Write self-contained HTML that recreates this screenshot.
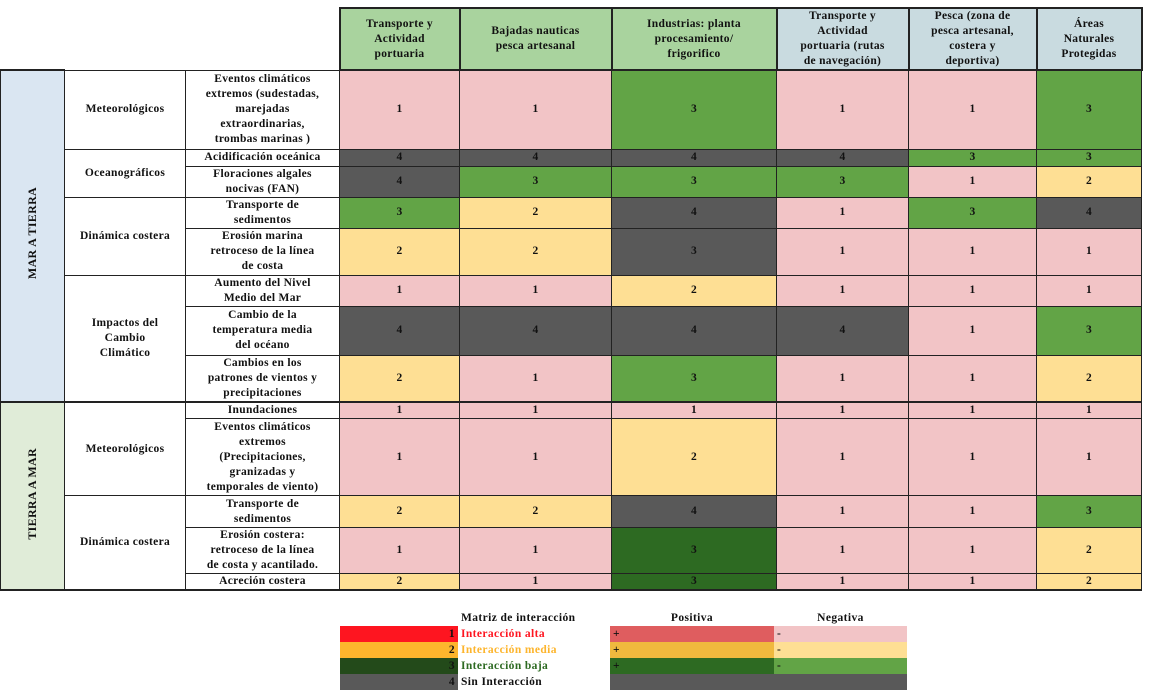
<!DOCTYPE html>
<html><head><meta charset="utf-8"><style>
body{margin:0;background:#fff;width:1151px;height:699px;overflow:hidden;font-family:"Liberation Serif",serif;font-weight:bold;color:#111}
table.m{position:absolute;left:0;top:7px;border-collapse:collapse;table-layout:fixed}
table.m td{border:1px solid #222;text-align:center;vertical-align:middle;font-size:11.5px;line-height:15px;padding:0;letter-spacing:0.3px;overflow:hidden}
.P{background:#f2c4c6}.Y{background:#fedf94}.G{background:#62a446}.D{background:#595959}.K{background:#2d6a22}
.hg{background:#a9d39e;border:2px solid #222 !important}.hb{background:#c9dbe0;border:2px solid #222 !important}
.e{border:none !important;background:#fff}
.lb{background:#dae6f2}.lg{background:#e0ecd8}
.v{writing-mode:vertical-rl;transform:rotate(180deg);font-size:12px;display:inline-block}
.t{border-bottom:2px solid #222 !important}
.leg{position:absolute;left:340px;top:610px;border-collapse:collapse;table-layout:fixed;font-size:11.5px;letter-spacing:0.4px}
.leg td{padding:0 3px;height:16px;line-height:14px}
</style></head><body>
<table class="m">
<colgroup><col style="width:64px"><col style="width:121px"><col style="width:154px"><col style="width:120px"><col style="width:152px"><col style="width:165px"><col style="width:132px"><col style="width:128px"><col style="width:105px"></colgroup>
<tr style="height:61px"><td class="e"></td><td class="e"></td><td class="e" style="border-right:2px solid #222 !important"></td>
<td class="hg">Transporte y<br>Actividad<br>portuaria</td><td class="hg">Bajadas nauticas<br>pesca artesanal</td><td class="hg">Industrias: planta<br>procesamiento/<br>frigorifico</td>
<td class="hb">Transporte y<br>Actividad<br>portuaria (rutas<br>de navegación)</td><td class="hb">Pesca (zona de<br>pesca artesanal,<br>costera y<br>deportiva)</td><td class="hb">Áreas<br>Naturales<br>Protegidas</td></tr>
<tr style="height:79px"><td rowspan="8" class="lb t" style="border-top:2px solid #222"><span class="v">MAR A TIERRA</span></td><td>Meteorológicos</td><td>Eventos climáticos<br>extremos (sudestadas,<br>marejadas<br>extraordinarias,<br>trombas marinas )</td><td class="P">1</td><td class="P">1</td><td class="G">3</td><td class="P">1</td><td class="P">1</td><td class="G">3</td></tr>
<tr style="height:17px"><td rowspan="2">Oceanográficos</td><td>Acidificación oceánica</td><td class="D">4</td><td class="D">4</td><td class="D">4</td><td class="D">4</td><td class="G">3</td><td class="G">3</td></tr>
<tr style="height:31px"><td>Floraciones algales<br>nocivas (FAN)</td><td class="D">4</td><td class="G">3</td><td class="G">3</td><td class="G">3</td><td class="P">1</td><td class="Y">2</td></tr>
<tr style="height:31px"><td rowspan="2">Dinámica costera</td><td>Transporte de<br>sedimentos</td><td class="G">3</td><td class="Y">2</td><td class="D">4</td><td class="P">1</td><td class="G">3</td><td class="D">4</td></tr>
<tr style="height:47px"><td>Erosión marina<br>retroceso de la línea<br>de costa</td><td class="Y">2</td><td class="Y">2</td><td class="D">3</td><td class="P">1</td><td class="P">1</td><td class="P">1</td></tr>
<tr style="height:30px"><td rowspan="3" class="t">Impactos del<br>Cambio<br>Climático</td><td>Aumento del Nivel<br>Medio del Mar</td><td class="P">1</td><td class="P">1</td><td class="Y">2</td><td class="P">1</td><td class="P">1</td><td class="P">1</td></tr>
<tr style="height:49px"><td>Cambio de la<br>temperatura media<br>del océano</td><td class="D">4</td><td class="D">4</td><td class="D">4</td><td class="D">4</td><td class="P">1</td><td class="G">3</td></tr>
<tr style="height:47px"><td class="t">Cambios en los<br>patrones de vientos y<br>precipitaciones</td><td class="Y t">2</td><td class="P t">1</td><td class="G t">3</td><td class="P t">1</td><td class="P t">1</td><td class="Y t">2</td></tr>
<tr style="height:16px"><td rowspan="5" class="lg t"><span class="v">TIERRA A MAR</span></td><td rowspan="2">Meteorológicos</td><td>Inundaciones</td><td class="P">1</td><td class="P">1</td><td class="P">1</td><td class="P">1</td><td class="P">1</td><td class="P">1</td></tr>
<tr style="height:77px"><td>Eventos climáticos<br>extremos<br>(Precipitaciones,<br>granizadas y<br>temporales de viento)</td><td class="P">1</td><td class="P">1</td><td class="Y">2</td><td class="P">1</td><td class="P">1</td><td class="P">1</td></tr>
<tr style="height:32px"><td rowspan="3" class="t">Dinámica costera</td><td>Transporte de<br>sedimentos</td><td class="Y">2</td><td class="Y">2</td><td class="D">4</td><td class="P">1</td><td class="P">1</td><td class="G">3</td></tr>
<tr style="height:46px"><td>Erosión costera:<br>retroceso de la línea<br>de costa y acantilado.</td><td class="P">1</td><td class="P">1</td><td class="K">3</td><td class="P">1</td><td class="P">1</td><td class="Y">2</td></tr>
<tr style="height:16px"><td class="t">Acreción costera</td><td class="Y t">2</td><td class="P t">1</td><td class="K t">3</td><td class="P t">1</td><td class="P t">1</td><td class="Y t">2</td></tr>
</table>
<table class="leg">
<colgroup><col style="width:118px"><col style="width:152px"><col style="width:164px"><col style="width:133px"></colgroup>
<tr style="height:13px"><td></td><td>Matriz de interacción</td><td style="text-align:center">Positiva</td><td style="text-align:center">Negativa</td></tr>
<tr><td style="background:#fe1520;text-align:right">1</td><td style="color:#fe1520">Interacción alta</td><td style="background:#df5d5f">+</td><td style="background:#f2c4c6">-</td></tr>
<tr><td style="background:#fdb52d;text-align:right">2</td><td style="color:#fdb52d">Interacción media</td><td style="background:#f0b93e">+</td><td style="background:#fedf94">-</td></tr>
<tr><td style="background:#234a1a;text-align:right">3</td><td style="color:#2d6a22">Interacción baja</td><td style="background:#2d6a22">+</td><td style="background:#62a446">-</td></tr>
<tr><td style="background:#595959;text-align:right">4</td><td>Sin Interacción</td><td colspan="2" style="background:#595959"></td></tr>
</table>
</body></html>
